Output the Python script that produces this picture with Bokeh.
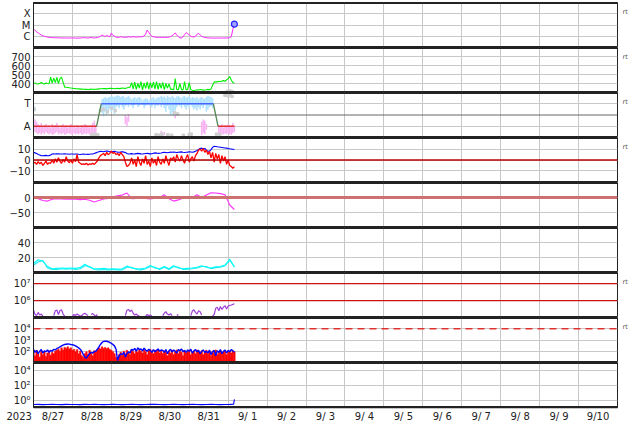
import numpy as np
from bokeh.plotting import figure
from bokeh.layouts import column
from bokeh.models import (Range1d, FixedTicker, Span, Grid, CustomJSTickFormatter,
                          LinearAxis, LogAxis)
from bokeh.embed import file_html
from bokeh.resources import INLINE

nan = float("nan")

# ---------------- data ----------------
# time grids, days since 2023-08-27 00:00
T1 = [round(0.04 * i, 2) for i in range(130)]
T2 = [round(0.12 * i, 2) for i in range(44)]

day_labels = ["8/27", "8/28", "8/29", "8/30", "8/31", "9/ 1", "9/ 2", "9/ 3",
              "9/ 4", "9/ 5", "9/ 6", "9/ 7", "9/ 8", "9/ 9", "9/10"]
year_label = "2023"
side_label = "rt"

# panel 1 : X-ray flux (units of 1e-7 W/m2)
xray_ticks = [1e-6, 1e-5, 1e-4]
xray_labels = ["C", "M", "X"]
xray_e7 = [44, 32, 25, 20, 16, 12.6, 11, 10, 9, 8.5,
           8, 7.8, 7.6, 7.5, 7.4, 7.3, 7.2, 7.2, 7.1, 7.0,
           7.0, 7.1, 6.9, 6.9, 7.0, 7.1, 7.0, 6.9, 6.8, 6.9,
           7.0, 7.2, 7.6, 7.3, 7.1, 7.0, 7.4, 7.8, 7.2, 7.1,
           7.3, 7.6, 8.5, 10, 13, 11, 9.5, 12, 10, 9,
           19, 12, 10, 8.5, 8.0, 8.2, 9.0, 8.5, 8.2, 8.0,
           8.3, 9.0, 8.6, 8.4, 9.2, 8.8, 8.5, 8.6, 9.0, 8.8,
           9.2, 10.5, 16, 35, 22, 14, 10, 9, 8.4, 8.2,
           8.0, 7.9, 8.1, 8.0, 7.8, 7.9, 8.0, 8.3, 9.5, 11,
           14, 20, 13, 9, 7.2, 7.0, 9, 14, 21, 17,
           13, 10, 9, 8.5, 10, 15, 18, 13, 10, 8.5,
           7.8, 7.4, 7.2, 7.0, 6.9, 7.0, 6.8, 6.9, 7.0, 6.9,
           7.0, 6.9, 7.1, 7.0, 7.0, 7.2, 7.4, 9, 40, 120]
flare_t = [5.16]
flare_v = [1.2e-5]

# panel 2 : solar wind speed
speed_ticks = [400, 500, 600, 700]
speed_labels = ["400", "500", "600", "700"]
speed = [400, 405, 398, 395, 402, 410, 400, 395, 405, 400,
         398, 470, 405, 460, 410, 468, 400, 455, 470, 415,
         360, 358, 356, 352, 350, 348, 345, 343, 342, 340,
         338, 337, 336, 335, 336, 334, 335, 337, 336, 335,
         336, 338, 340, 342, 341, 344, 343, 340, 345, 348,
         346, 344, 342, 345, 347, 343, 346, 350, 348, 345,
         352, 355, 360, 410, 340, 415, 335, 400, 350, 420,
         330, 405, 345, 418, 338, 410, 352, 415, 340, 420,
         335, 405, 345, 412, 332, 400, 348, 395, 340, 335,
         330, 455, 335, 330, 400, 332, 328, 420, 330, 335,
         410, 330, 325, 322, 325, 330, 328, 333, 330, 326,
         328, 330, 335, 330, 340, 380, 415, 420, 418, 425,
         420, 428, 432, 425, 440, 455, 478, 440, 410, 402]
speed_gray_t = [4.98, 5.04, 5.10]
speed_gray_v = [312, 318, 310]

# panel 3 : sector (T = toward, A = away)
sector_ticks = [-1, 1]
sector_labels = ["A", "T"]
sector_t = [0.0, 1.62, 1.74, 4.62, 4.74, 5.16]
sector_v = [-1, -1, 1, 1, -1, -1]
tw_t = [0.0, 0.04] + T1[44:116]
tw_hi = [0.9, 0.7,
         1.4, 1.5, 1.6, 1.5, 1.55, 1.6, 1.7, 1.65, 1.6, 1.7,
         1.75, 1.7, 1.6, 1.7, 1.65, 1.5, 1.6, 1.7, 1.55, 1.4,
         1.5, 1.6, 1.45, 1.55, 1.6, 1.5, 1.3, 1.4, 1.5, 1.45,
         1.3, 1.35, 1.5, 1.6, 1.4, 1.5, 1.6, 1.55, 1.7, 1.6,
         1.65, 1.5, 1.7, 1.6, 1.55, 1.7, 1.6, 1.5, 1.65, 1.7,
         1.6, 1.5, 1.65, 1.7, 1.55, 1.6, 1.7, 1.5, 1.6, 1.55,
         1.5, 1.6, 1.4, 1.55, 1.6, 1.5, 1.45, 1.6, 1.7, 1.65,
         1.6, 1.5]
tw_lo = [0.3, 0.4,
         0.2, -0.1, 0.3, 0.0, 0.4, 0.6, 0.3, 0.5, 0.1, 0.7,
         0.8, 0.6, 0.9, 0.7, 0.5, 0.8, 0.9, 0.7, 1.0, 0.8,
         0.6, 0.9, 1.0, 0.7, 0.8, 1.1, 0.9, 0.6, 0.8, 1.0,
         0.9, 0.8, 0.7, 1.0, 0.6, 0.9, 0.8, 1.1, 0.7, 0.9,
         0.6, 0.3, 0.8, 0.5, 0.0, 0.2, -0.1, 0.4, 0.7, 0.9,
         0.8, 0.6, 0.9, 0.7, 0.5, 0.8, 0.6, 0.9, 0.7, 0.5,
         0.6, 0.4, 0.7, 0.5, 0.8, 0.6, 0.9, 0.3, 0.5, 0.7,
         0.8, 0.6]
aw_t = T1[0:41] + [2.36, 2.40, 2.44, 3.28, 3.36, 3.64, 4.32, 4.36, 4.40, 4.44] + T1[119:130]
aw_hi = [-0.3, -0.4, -0.6, -0.8, -0.9, -0.7, -1.0, -0.9, -0.8, -1.0,
         -0.9, -1.1, -0.8, -1.0, -0.9, -0.7, -1.0, -1.1, -0.9, -0.8,
         -1.0, -0.9, -1.1, -1.0, -0.8, -0.9, -1.0, -1.1, -0.9, -1.0,
         -1.1, -0.9, -1.0, -0.8, -0.9, -1.0, -1.1, -0.9, -0.7, -0.5,
         -0.9,
         0.0, -0.2, 0.1, -1.4, -1.5, 0.0, -0.6, -0.4, -0.5, -0.8,
         -0.9, -1.0, -0.8, -1.1, -0.9, -1.0, -0.8, -0.9, -1.0, -0.7, -0.9]
aw_lo = [-1.3, -1.5, -1.6, -1.7, -1.6, -1.75, -1.6, -1.7, -1.5, -1.65,
         -1.7, -1.6, -1.75, -1.7, -1.6, -1.5, -1.7, -1.65, -1.7, -1.6,
         -1.75, -1.7, -1.6, -1.65, -1.7, -1.75, -1.6, -1.7, -1.65, -1.7,
         -1.6, -1.75, -1.7, -1.65, -1.7, -1.6, -1.75, -1.7, -1.65, -1.7,
         -1.7,
         -0.8, -1.0, -0.6, -1.8, -1.8, -0.3, -1.8, -1.6, -1.7, -1.3,
         -1.7, -1.6, -1.75, -1.7, -1.65, -1.7, -1.6, -1.7, -1.75, -1.6, -1.5]
gray_t = [1.5, 1.55, 1.6, 1.65, 1.72, 1.8, 1.9, 2.0, 2.1, 3.15, 3.22, 3.3, 3.45,
          3.55, 3.62, 3.7, 3.85, 4.0, 4.05, 4.7, 4.78, 4.92, 5.0, 5.05, 5.1, 0.02]
gray_v = [-1.75, -1.7, -1.8, -1.75, 0.4, 0.5, 0.3, 0.6, 0.4, -1.75, -1.8, -1.7, -1.75,
          -1.8, 0.2, 0.1, -1.8, -1.75, -1.7, -1.7, -1.75, 1.75, 1.7, 1.8, 1.65, 0.5]

# panel 4 : IMF Bt and Bz (nT)
b_ticks = [-10, 0, 10]
b_labels = ["\u221210", "0", "10"]
bt = [7, 6.5, 6, 5, 4.5, 4, 3.8, 4, 4.2, 3.8,
      4, 4.5, 5.5, 5.6, 5.5, 5.7, 5.6, 5.5, 5.4, 5.5,
      5.6, 5.5, 5.4, 5.3, 5.5, 5.4, 5.3, 5.4, 5.5, 5.2,
      5.0, 5.2, 5.4, 5.3, 5.2, 5.1, 5.3, 5.5, 5.6, 6.0,
      6.5, 7, 7.5, 8, 7.8, 7.5, 8, 8.2, 8, 7.6,
      7.4, 7.8, 8, 7.5, 7.2, 7, 7.3, 7.6, 7.2, 6.8,
      6.0, 5.5, 5.6, 5.8, 5.5, 5.6, 5.8, 6, 5.8, 5.6,
      5.5, 5.7, 5.9, 6.0, 5.8, 5.6, 5.7, 6.2, 6.5, 6.3,
      6.0, 6.2, 6.4, 6.8, 7.0, 6.8, 6.6, 6.9, 7.2, 7.0,
      7.2, 7.0, 6.8, 7.0, 7.2, 7.4, 7.0, 6.8, 7.0, 7.2,
      7.5, 7.3, 7.0, 7.4, 8.0, 8.6, 9.5, 10.5, 10.8, 10.2,
      10.5, 9.0, 8.0, 8.0, 9.5, 11.5, 12.5, 12.3, 12.0, 11.8,
      11.6, 11.4, 11.2, 11.0, 10.8, 10.5, 10.2, 10.0, 9.8, 9.5]
bz = [-3, -2, -4, -1.5, -3.5, -2, -5, -3, -1, -4,
      -2.5, -3, 0, -3, 1, -2, 2, -1, -3, 0.5,
      -2, 3, -1, -2.5, 0, -3, 1, -1.5, 5, -2,
      -3, -4, -3.5, -4, -3, -4.5, -3.5, -4, -3, -4,
      -2.5, -1, 2, 4, 5, 6, 4, 7, 5, 6,
      8, 6, 7, 5, 6, 4, 7, 5, 3, -2,
      -6, -5, -3, 2, -4, 0, -6, 3, -2, -5,
      1, -3, 4, -4, -1, -6, 2, -3, 0, -5,
      3, -2, -4, 1, -3, 4, -1, -5, 2, 0,
      3, -2, 5, 1, -1, 4, 0, -3, 2, 5,
      -2, 1, 3, -1, 4, 6, 9, 10, 8, 10.5,
      7, 9, 5, 8, 2, 7, -2, 6, 1, 5,
      -3, 4, -1, 3, -4, 0, -5, -6, -7.5, -6]

# panel 5 : Dst (nT)
dst_ticks = [-50, 0]
dst_labels = ["\u221250", "0"]
dst = [0, -4, -10, -12, -6, -4, -5, -6, -5, -6,
       -7, -6, -9, -15, -10, -5, -3, 2, 6, 8,
       15, -4, -3, -2, -3, -5, -2, 0, 9, -4,
       -12, -8, -2, -1, 0, 9, 0, 8, 16, 15,
       13, 9, -25, -40]

# panel 6 : density
n_ticks = [20, 40]
n_labels = ["20", "40"]
n1 = [12, 17, 15, 8, 5, 5.5, 6, 5.5, 6, 5.5,
      6.5, 11, 7, 5, 5, 5.5, 4.5, 5, 4.5, 5,
      8.5, 6, 5, 5, 6, 9.5, 6, 5, 8, 5,
      9, 6, 5, 5.5, 6, 7, 9, 7, 6, 7.5,
      8, 10, 18, 7]
n2 = [10, 14, 16, 6, 4, 4, 5, 4.5, 5, 4,
      5, 9, 8, 4, 3.5, 4, 3.5, 4, 3.5, 3.5,
      7, 7, 4, 3.5, 5, 8, 7, 4, 7, 4,
      8, 7, 4, 4.5, 5, 6, 8, 8, 5, 6.5,
      7, 9, 16, 8]

# panel 7 : electron flux (units of 1e5)
e_ticks = [1e6, 1e7]
e_labels = ["10\u2076", "10\u2077"]
e_lines = [1e6, 1e7]
elec_e5 = [2.8, 1.5, 1.3, 2.0, 1.4, 1.6, 1.2, nan, nan, nan,
           nan, nan, nan, 1.3, 2.5, 2.8, 1.5, 2.6, 2.9, 1.6,
           1.2, nan, nan, nan, nan, 1.2, 1.5, 1.3, 1.6, 1.4,
           1.2, 1.3, 1.6, 1.8, 1.5, 1.3, nan, 1.5, 1.7, 1.4,
           1.2, 1.5, nan, nan, nan, nan, nan, nan, nan, nan,
           nan, nan, nan, nan, nan, nan, nan, nan, nan, 1.3,
           2.7, 3.0, 2.2, 2.8, 1.8, 1.4, 1.6, 1.3, 1.2, nan,
           nan, nan, 1.2, 1.5, 1.3, 1.4, 1.2, nan, nan, nan,
           nan, nan, nan, 1.3, 1.8, 2.2, 1.6, 1.4, 1.7, 1.3,
           nan, nan, 1.3, 1.5, nan, nan, nan, nan, nan, nan,
           nan, 1.3, 2.4, 2.9, 2.0, 1.6, 2.5, 2.2, 1.4, nan,
           nan, nan, nan, nan, nan, 1.2, 1.5, 3.5, 4.0, 2.5,
           4.5, 3.0, 4.2, 5.0, 3.2, 4.8, 5.2, 5.5, 6.0, 6.5]

# panel 8 : proton flux
p_ticks = [1e2, 1e3, 1e4]
p_labels = ["10\u00b2", "10\u00b3", "10\u2074"]
p_alert = 1e4
prot_blue = [150, 80, 120, 60, 100, 140, 70, 110, 90, 130,
             80, 120, 100, 150, 130, 180, 200, 250, 300, 350,
             400, 420, 440, 430, 400, 380, 350, 300, 250, 200,
             150, 100, 50, 30, 25, 40, 60, 80, 70, 90,
             100, 150, 250, 400, 600, 750, 800, 780, 700, 600,
             500, 400, 300, 150, 15, 40, 60, 50, 80, 30,
             60, 90, 70, 150, 120, 180, 100, 200, 140, 160,
             110, 190, 130, 100, 150, 120, 80, 140, 90, 120,
             160, 100, 130, 120, 80, 140, 60, 110, 150, 90,
             130, 100, 70, 140, 110, 160, 90, 120, 80, 130,
             100, 150, 70, 110, 140, 90, 120, 60, 100, 130,
             80, 100, 70, 130, 50, 90, 120, 40, 110, 80,
             140, 60, 100, 130, 70, 120, 90, 140, 110, 80]
prot_red = [80, 40, 120, 60, 30, 100, 50, 90, 35, 70,
            110, 45, 80, 60, 100, 120, 150, 100, 200, 130,
            220, 180, 250, 160, 200, 120, 150, 90, 140, 60,
            100, 40, 30, 60, 90, 50, 120, 70, 40, 110,
            80, 130, 200, 160, 250, 180, 220, 170, 200, 140,
            120, 90, 60, 30, 20, 50, 80, 40, 100, 60,
            120, 70, 50, 140, 90, 60, 120, 80, 150, 100,
            70, 130, 90, 50, 110, 140, 80, 60, 120, 90,
            130, 70, 100, 60, 110, 80, 40, 100, 70, 120,
            50, 90, 130, 60, 100, 80, 40, 110, 70, 90,
            120, 50, 80, 100, 60, 130, 90, 70, 110, 50,
            80, 120, 60, 90, 40, 100, 70, 130, 50, 80,
            110, 60, 90, 120, 50, 80, 100, 70, 110, 90]

# panel 9 : high energy flux
h_ticks = [1.0, 1e2, 1e4]
h_labels = ["10\u2070", "10\u00b2", "10\u2074"]
h_t = T2[:43] + [5.14, 5.16]
h_v = [0.25, 0.26, 0.24, 0.25, 0.27, 0.25, 0.24, 0.26, 0.25, 0.25,
       0.24, 0.26, 0.25, 0.27, 0.25, 0.24, 0.25, 0.26, 0.25, 0.24,
       0.25, 0.26, 0.25, 0.24, 0.25, 0.26, 0.27, 0.25, 0.24, 0.25,
       0.26, 0.25, 0.24, 0.25, 0.26, 0.25, 0.24, 0.25, 0.26, 0.25,
       0.24, 0.25, 0.26, 0.27, 1.2]

# ---------------- layout ----------------
FONT = "DejaVu Sans"
DARK = "#222222"
GRID = "#c8c8c8"
FRAME_W, FRAME_H = 584, 45
XR = Range1d(0, 15)

FMT_CODE = """
for (let i = 0; i < tv.length; i++) {
    if (tick == tv[i] || Math.abs(tick - tv[i]) <= 1e-6 * Math.abs(tv[i])) return tl[i];
}
return "";
"""


def make_panel(yr, ytype, ticks, labels, first=False, last=False):
    p = figure(frame_width=FRAME_W, frame_height=FRAME_H, x_range=XR, y_range=yr,
               y_axis_type=ytype, x_axis_location="below" if last else None,
               output_backend="svg", toolbar_location=None,
               min_border_left=33, min_border_right=15,
               min_border_top=2 if first else 0, min_border_bottom=15 if last else 0)
    p.xgrid.visible = False
    p.ygrid.visible = False
    p.add_layout(Grid(dimension=0, ticker=FixedTicker(ticks=list(range(16))),
                      grid_line_color=GRID))
    p.add_layout(Grid(dimension=1, ticker=FixedTicker(ticks=ticks), grid_line_color=GRID))
    ax = p.yaxis[0]
    ax.ticker = FixedTicker(ticks=ticks)
    ax.formatter = CustomJSTickFormatter(args=dict(tv=ticks, tl=labels), code=FMT_CODE)
    ax.major_tick_line_color = None
    ax.major_tick_out = 0
    ax.major_tick_in = 0
    ax.minor_tick_line_color = None
    ax.minor_tick_out = 0
    ax.axis_line_color = DARK
    ax.major_label_standoff = 3
    ax.major_label_text_font = FONT
    ax.major_label_text_font_size = "10px"
    ax.major_label_text_color = DARK
    p.outline_line_color = DARK
    p.outline_line_width = 1
    p.add_layout(Span(location=yr.end, dimension="width", line_color=DARK, line_width=3))
    p.add_layout(Span(location=yr.start, dimension="width", line_color=DARK, line_width=3))
    return p


def rt_axis(p, yr, ytype):
    # small "rt" tag on the right, 9 px below the panel top
    if ytype == "log":
        lo, hi = np.log10(yr.start), np.log10(yr.end)
        y = 10 ** (hi - (hi - lo) * 9.0 / FRAME_H)
        cls = LogAxis
    else:
        y = yr.end - (yr.end - yr.start) * 9.0 / FRAME_H
        cls = LinearAxis
    ra = cls(ticker=FixedTicker(ticks=[y]),
             formatter=CustomJSTickFormatter(args=dict(s=side_label), code="return s;"),
             major_tick_line_color=None, major_tick_out=0, major_tick_in=0,
             minor_tick_line_color=None, minor_tick_out=0, axis_line_color=None,
             major_label_standoff=5, major_label_text_font=FONT,
             major_label_text_font_size="6.5px", major_label_text_color="#555555")
    p.add_layout(ra, "right")


panels = []

# 1 X-ray
yr1 = Range1d(1e-7, 1e-3)
p1 = make_panel(yr1, "log", xray_ticks, xray_labels, first=True)
p1.line(T1, np.array(xray_e7) * 1e-7, line_color="#ff22ff", line_width=1.0)
p1.scatter(flare_t, flare_v, marker="circle", size=6, line_color="#2222ff",
           fill_color="#a0a0ff", line_width=1.2)
rt_axis(p1, yr1, "log")
panels.append(p1)

# 2 speed
yr2 = Range1d(300, 800)
p2 = make_panel(yr2, "linear", speed_ticks, speed_labels)
p2.scatter(speed_gray_t, speed_gray_v, marker="square", size=2.5, color="#cccccc")
p2.line(T1, speed, line_color="#00ee00", line_width=1.1)
rt_axis(p2, yr2, "linear")
panels.append(p2)

# 3 sector
yr3 = Range1d(-2, 2)
p3 = make_panel(yr3, "linear", sector_ticks, sector_labels)
p3.add_layout(Span(location=0, dimension="width", line_color="#666666", line_width=1))
p3.segment(x0=tw_t, y0=tw_lo, x1=tw_t, y1=tw_hi, line_color="#b0e2ff", line_width=1.6)
p3.segment(x0=aw_t, y0=aw_lo, x1=aw_t, y1=aw_hi, line_color="#f8b4f2", line_width=1.6)
p3.scatter(gray_t, gray_v, marker="square", size=2.5, color="#cfcfcf")
seg_colors = []
for k in range(len(sector_t) - 1):
    a, b = sector_v[k], sector_v[k + 1]
    seg_colors.append("#dd3333" if a == b == -1 else ("#4466ff" if a == b == 1 else "#558855"))
p3.segment(x0=sector_t[:-1], y0=sector_v[:-1], x1=sector_t[1:], y1=sector_v[1:],
           line_color=seg_colors, line_width=1.3)
rt_axis(p3, yr3, "linear")
panels.append(p3)

# 4 IMF
yr4 = Range1d(-20.5, 20.5)
p4 = make_panel(yr4, "linear", b_ticks, b_labels)
p4.add_layout(Span(location=0, dimension="width", line_color="#bb0000", line_width=1.5))
p4.line(T1, bt, line_color="#0000ff", line_width=1.1)
p4.line(T1, bz, line_color="#ff0000", line_width=1.3)
rt_axis(p4, yr4, "linear")
panels.append(p4)

# 5 Dst
yr5 = Range1d(-100, 50)
p5 = make_panel(yr5, "linear", dst_ticks, dst_labels)
p5.add_layout(Span(location=0, dimension="width", line_color="#cd7070", line_width=3))
p5.line(T2, dst, line_color="#ff33ff", line_width=1.1)
panels.append(p5)

# 6 density
yr6 = Range1d(0, 60)
p6 = make_panel(yr6, "linear", n_ticks, n_labels)
p6.line(T2, n2, line_color="#22e8e8", line_width=1.1)
p6.line(T2, n1, line_color="#00ffff", line_width=1.1)
panels.append(p6)

# 7 electrons
yr7 = Range1d(1e5, 10 ** 7.66)
p7 = make_panel(yr7, "log", e_ticks, e_labels)
for loc in e_lines:
    p7.add_layout(Span(location=loc, dimension="width", line_color="#cc1111", line_width=1.4))
p7.line(T1, np.array(elec_e5) * 1e5, line_color="#a040d8", line_width=1.2)
rt_axis(p7, yr7, "log")
panels.append(p7)

# 8 protons
yr8 = Range1d(10, 1e5)
p8 = make_panel(yr8, "log", p_ticks, p_labels)
p8.add_layout(Span(location=p_alert, dimension="width", line_color="#dd3333",
                   line_width=1.5, line_dash="7 5"))
p8.vbar(x=T1, width=0.04, bottom=10, top=prot_red, fill_color="#ff0000", line_color="#ff0000",
        line_width=0.5)
p8.line(T1, prot_blue, line_color="#0000ff", line_width=1.4)
rt_axis(p8, yr8, "log")
panels.append(p8)

# 9 high energy
yr9 = Range1d(0.1, 1e5)
p9 = make_panel(yr9, "log", h_ticks, h_labels, last=True)
p9.line(h_t, h_v, line_color="#0000ff", line_width=1.1)
xa = p9.xaxis[0]
xa.ticker = FixedTicker(ticks=[0.0] + [d + 0.5 for d in range(15)])
xa.formatter = CustomJSTickFormatter(
    args=dict(tl=day_labels, yl=year_label + "\u00a0" * 9),
    code="if (tick < 0.25) return yl; const i = Math.round(tick - 0.5); return tl[i] || '';")
xa.major_tick_line_color = None
xa.major_tick_out = 0
xa.major_tick_in = 0
xa.minor_tick_line_color = None
xa.minor_tick_out = 0
xa.axis_line_color = DARK
xa.axis_line_width = 1.5
xa.major_label_standoff = 3
xa.major_label_text_font = FONT
xa.major_label_text_font_size = "10px"
xa.major_label_text_color = DARK
panels.append(p9)

layout = column(*panels, spacing=0)
open("out.html", "w").write(file_html(layout, INLINE))
